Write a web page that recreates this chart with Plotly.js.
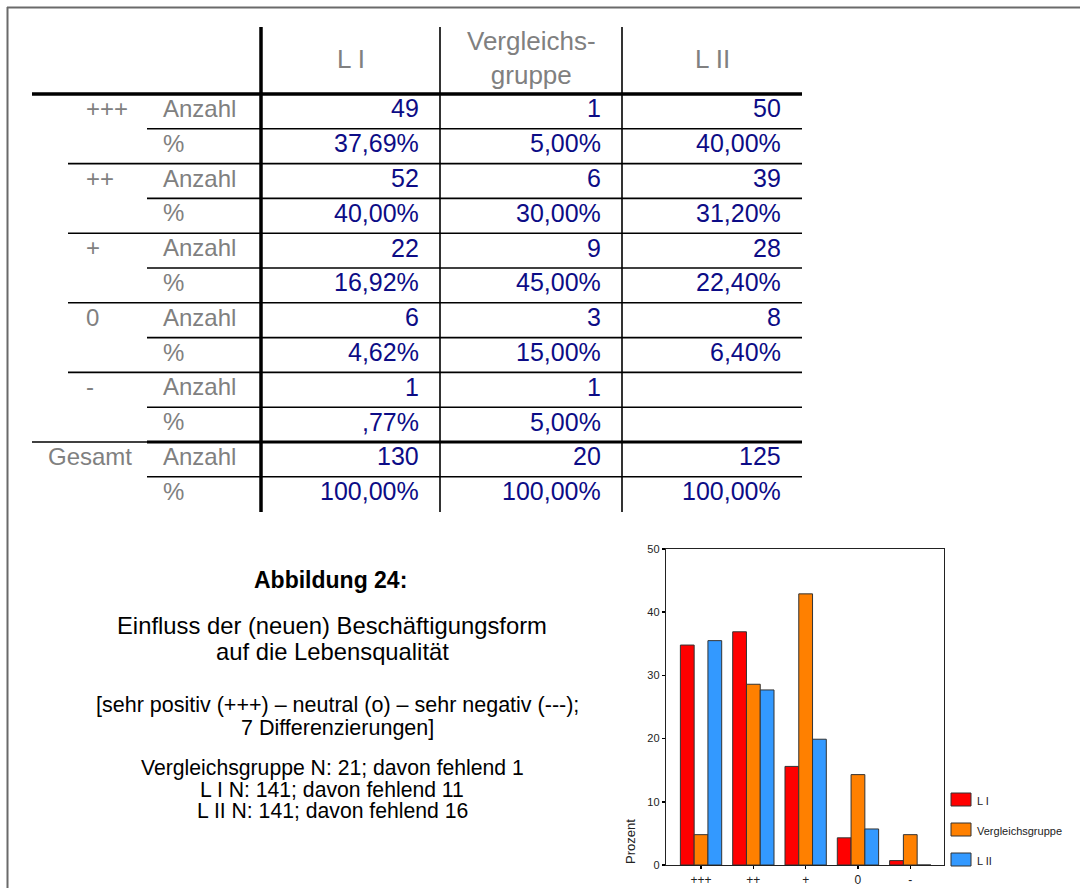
<!DOCTYPE html>
<html>
<head>
<meta charset="utf-8">
<script src="https://cdn.plot.ly/plotly-3.0.1.min.js"></script>
<style>
  html, body { margin: 0; padding: 0; background: #ffffff; }
  #chart { width: 1080px; height: 888px; }
</style>
</head>
<body>
<div id="chart"></div>
<script>
// ---- Bar chart data (Prozent je Gruppe) ----
const categories = ['+++', '++', '+', '0', '-'];
const seriesNames = ['L I', 'Vergleichsgruppe', 'L II'];
const seriesColors = ['#ff0000', '#ff8000', '#3399ff'];
const valuesLI = [34.8, 36.9, 15.6, 4.3, 0.7];
const valuesVG = [4.8, 28.6, 42.9, 14.3, 4.8];
const valuesLII = [35.5, 27.7, 19.9, 5.7, 0];
const yTicks = [0, 10, 20, 30, 40, 50];

// ---- Crosstab data ----
const rowGroups = ['+++', '++', '+', '0', '-', 'Gesamt'];
const rowStats = ['Anzahl', '%'];
const columnHeads = ['L I', 'Vergleichs-<br>gruppe', 'L II'];
const countLI = [49, 52, 22, 6, 1, 130];
const pctLI = [37.69, 40.00, 16.92, 4.62, 0.77, 100.00];
const countVG = [1, 6, 9, 3, 1, 20];
const pctVG = [5.00, 30.00, 45.00, 15.00, 5.00, 100.00];
const countLII = [50, 39, 28, 8, null, 125];
const pctLII = [40.00, 31.20, 22.40, 6.40, null, 100.00];

// ---- Caption lines ----
const captionTitle = 'Abbildung 24:';
const captionMain = ['Einfluss der (neuen) Beschäftigungsform', 'auf die Lebensqualität'];
const captionScale = ['[sehr positiv (+++) – neutral (o) – sehr negativ (---);', '7 Differenzierungen]'];
const captionN = ['Vergleichsgruppe N: 21; davon fehlend 1', 'L I N: 141; davon fehlend 11', 'L II N: 141; davon fehlend 16'];

// ---- Page geometry (pixels) ----
const PAGE_W = 1080, PAGE_H = 888;
const PLOT_L = 666, PLOT_R = 944, PLOT_T = 549, PLOT_B = 865;
const PW = PLOT_R - PLOT_L, PH = PLOT_B - PLOT_T;
const X = px => (px - PLOT_L) / PW;     // pixel -> paper x
const Y = py => (PLOT_B - py) / PH;     // pixel -> paper y

const FONT = 'Liberation Sans, Arial, Helvetica, sans-serif';
const GREY = '#808080';
const NAVY = '#0c0c86';

const shapes = [];
const annotations = [];

function hline(y, x0, x1, w) {
  shapes.push({type: 'line', xref: 'paper', yref: 'paper',
    x0: X(x0), x1: X(x1), y0: Y(y), y1: Y(y),
    line: {color: '#000', width: w}});
}
function vline(x, y0, y1, w) {
  shapes.push({type: 'line', xref: 'paper', yref: 'paper',
    x0: X(x), x1: X(x), y0: Y(y0), y1: Y(y1),
    line: {color: '#000', width: w}});
}
function label(text, x, y, opts) {
  annotations.push(Object.assign({
    text: text, xref: 'paper', yref: 'paper', x: X(x), y: Y(y),
    showarrow: false, xanchor: 'center', yanchor: 'middle',
    font: {family: FONT, size: 24, color: GREY}
  }, opts || {}));
}
function fmtPct(v) {
  if (v === null) return '';
  let s = v.toFixed(2).replace('.', ',');
  if (s.startsWith('0,')) s = s.slice(1);
  return s + '%';
}

// ---- Page frame ----
shapes.push({type: 'line', xref: 'paper', yref: 'paper', x0: X(7), x1: X(PAGE_W), y0: Y(7.5), y1: Y(7.5),
  line: {color: '#6a6a6a', width: 2}});
shapes.push({type: 'line', xref: 'paper', yref: 'paper', x0: X(7.5), x1: X(7.5), y0: Y(7), y1: Y(PAGE_H),
  line: {color: '#6a6a6a', width: 2}});

// ---- Crosstab grid ----
const TAB_TOP = 27, HEAD_Y = 94, ROW_H = 34.8, TAB_BOTTOM = 512;
const COL_THICK = 261, COL_1 = 440, COL_2 = 622, TAB_R = 802;
const STAT_X = 147, GROUP_X = 68, LEFT_X = 32;
const TEXT_SHIFT = -3;   // text sits a little above the row centre

vline(COL_THICK, TAB_TOP, TAB_BOTTOM, 3.5);
vline(COL_1, TAB_TOP, TAB_BOTTOM, 1.6);
vline(COL_2, TAB_TOP, TAB_BOTTOM, 1.6);
hline(HEAD_Y, LEFT_X, TAB_R, 3.5);

const rowY = i => HEAD_Y + ROW_H * i;   // top edge of row i
rowGroups.forEach((g, gi) => {
  const top = rowY(gi * 2);
  const mid = rowY(gi * 2 + 1);
  hline(mid, STAT_X, TAB_R, 1.6);
  if (gi > 0 && g !== 'Gesamt') hline(top, GROUP_X, TAB_R, 1.6);
  if (g === 'Gesamt') {
    hline(top, LEFT_X, STAT_X, 1.6);
    hline(top, STAT_X, TAB_R, 3.2);
  }
});

// ---- Crosstab header ----
const headFont = {family: FONT, size: 26, color: GREY};
label(columnHeads[0], (COL_THICK + COL_1) / 2, 59, {font: headFont});
label(columnHeads[1], (COL_1 + COL_2) / 2, 58, {font: headFont});
label(columnHeads[2], (COL_2 + TAB_R) / 2, 59, {font: headFont});

// ---- Crosstab body ----
const colRights = [421, 603, 783];
const counts = [countLI, countVG, countLII];
const pcts = [pctLI, pctVG, pctLII];
const valFont = {family: FONT, size: 25, color: NAVY};
rowGroups.forEach((g, gi) => {
  const yA = rowY(gi * 2) + ROW_H / 2 + TEXT_SHIFT;
  const yP = rowY(gi * 2 + 1) + ROW_H / 2 + TEXT_SHIFT;
  label(g, g === 'Gesamt' ? 46 : 84, yA, {xanchor: 'left'});
  label(rowStats[0], 161, yA, {xanchor: 'left'});
  label(rowStats[1], 161, yP, {xanchor: 'left'});
  counts.forEach((arr, ci) => {
    if (arr[gi] !== null) {
      label(String(arr[gi]), colRights[ci], yA, {xanchor: 'right', font: valFont});
    }
    const p = fmtPct(pcts[ci][gi]);
    if (p) {
      label(p, colRights[ci], yP, {xanchor: 'right', font: valFont});
    }
  });
});

// ---- Caption block ----
const CAP_X = 332;
label('<b>' + captionTitle + '</b>', 330, 580, {font: {family: FONT, size: 23, color: '#000'}});
captionMain.forEach((t, i) => label(t, CAP_X, 625 + i * 26.5, {font: {family: FONT, size: 23.8, color: '#000'}}));
captionScale.forEach((t, i) => label(t, 337, 705 + i * 23, {font: {family: FONT, size: 21.5, color: '#000'}}));
captionN.forEach((t, i) => label(t, CAP_X, 768 + i * 21, {font: {family: FONT, size: 21.2, color: '#000'}}));

// ---- Axis title ----
label('Prozent', 630, 842, {textangle: -90, font: {family: FONT, size: 13, color: '#222'}});

// ---- Legend (swatch + name per series) ----
const LEG_X = 951, LEG_Y0 = 793, LEG_STEP = 30;
seriesNames.forEach((name, i) => {
  const y0 = LEG_Y0 + i * LEG_STEP;
  shapes.push({type: 'rect', xref: 'paper', yref: 'paper',
    x0: X(LEG_X), x1: X(LEG_X + 20), y0: Y(y0), y1: Y(y0 + 13),
    fillcolor: seriesColors[i], line: {color: '#333', width: 1}});
  label(name, LEG_X + 24, y0 + 8, {xanchor: 'left', font: {family: FONT, size: 11, color: '#222'}});
});

// ---- Bar traces ----
const seriesValues = [valuesLI, valuesVG, valuesLII];
const traces = seriesNames.map((name, i) => ({
  type: 'bar',
  name: name,
  x: categories,
  y: seriesValues[i],
  marker: {color: seriesColors[i], line: {color: '#333333', width: 1}},
  hoverinfo: 'x+y+name'
}));

const layout = {
  width: PAGE_W,
  height: PAGE_H,
  margin: {l: PLOT_L, r: PAGE_W - PLOT_R, t: PLOT_T, b: PAGE_H - PLOT_B, pad: 0},
  paper_bgcolor: '#ffffff',
  plot_bgcolor: '#ffffff',
  showlegend: false,
  barmode: 'group',
  bargap: 0.21,
  bargroupgap: 0,
  font: {family: FONT, color: '#222'},
  xaxis: {
    type: 'category',
    range: [-0.67, 4.645],
    showline: true, linecolor: '#222', linewidth: 1.2, mirror: true,
    ticks: 'outside', ticklen: 3, tickwidth: 1.5, tickcolor: '#000',
    showgrid: false, zeroline: false,
    tickfont: {family: FONT, size: 12, color: '#222'}
  },
  yaxis: {
    range: [0, 50],
    tickvals: yTicks,
    showline: true, linecolor: '#222', linewidth: 1.2, mirror: true,
    ticks: 'outside', ticklen: 3, tickwidth: 1.5, tickcolor: '#000',
    showgrid: false, zeroline: false,
    tickfont: {family: FONT, size: 11, color: '#222'}
  },
  shapes: shapes,
  annotations: annotations
};

Plotly.newPlot('chart', traces, layout, {displayModeBar: false, staticPlot: true});
</script>
</body>
</html>
